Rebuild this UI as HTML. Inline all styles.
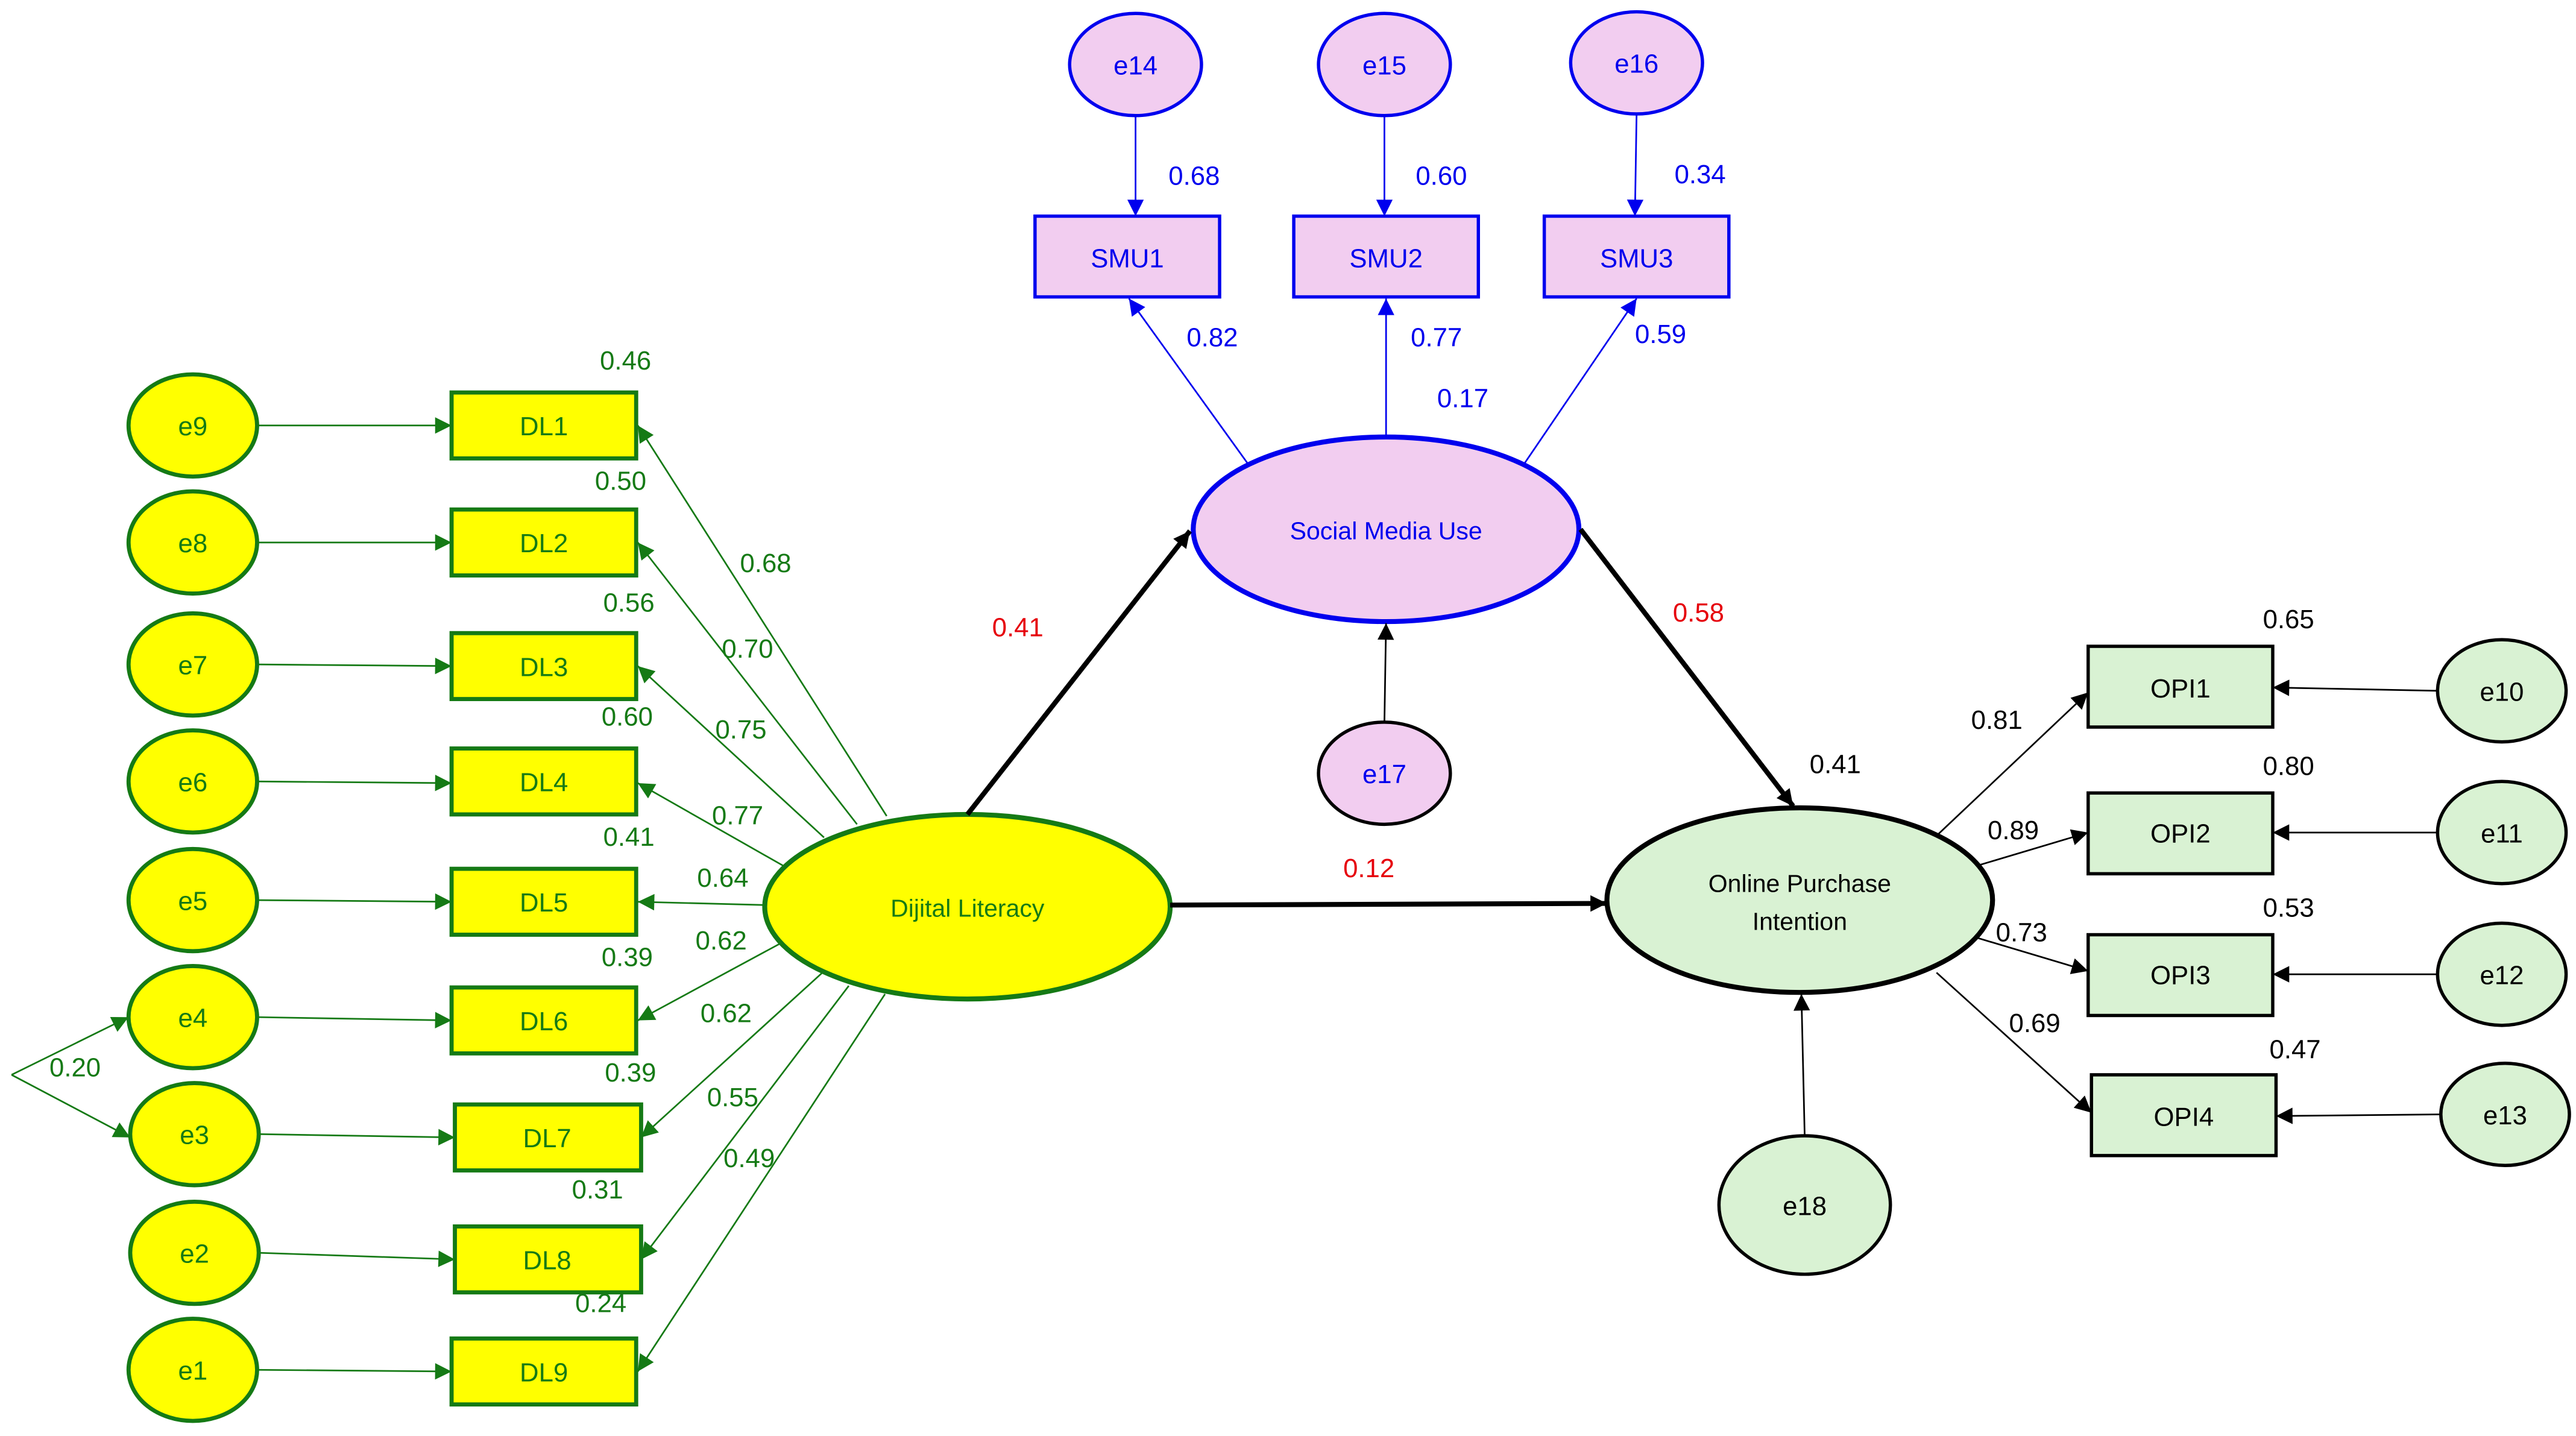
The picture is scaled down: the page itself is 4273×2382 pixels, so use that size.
<!DOCTYPE html>
<html><head><meta charset="utf-8"><style>
html,body{margin:0;padding:0;background:#fff;}
svg{display:block;}
text{font-family:"Liberation Sans",Arial,sans-serif;}
</style></head><body>
<svg width="4273" height="2382" viewBox="0 0 1563 871" xmlns="http://www.w3.org/2000/svg">
<defs>
<marker id="ag" viewBox="0 0 10 10" refX="10" refY="5" markerWidth="14" markerHeight="10" markerUnits="userSpaceOnUse" orient="auto"><path d="M0,0L10,5L0,10z" fill="#157a15"/></marker>
<marker id="ab" viewBox="0 0 10 10" refX="10" refY="5" markerWidth="14" markerHeight="10" markerUnits="userSpaceOnUse" orient="auto"><path d="M0,0L10,5L0,10z" fill="#0000ee"/></marker>
<marker id="ak" viewBox="0 0 10 10" refX="10" refY="5" markerWidth="14" markerHeight="10" markerUnits="userSpaceOnUse" orient="auto"><path d="M0,0L10,5L0,10z" fill="#000"/></marker>
</defs>
<rect width="1563" height="871" fill="#fff"/>

<!-- DL error ellipses and arrows -->
<g stroke="#157a15" stroke-width="1" fill="none">
<line x1="156" y1="258" x2="274" y2="258" marker-end="url(#ag)"/>
<line x1="156" y1="329" x2="274" y2="329" marker-end="url(#ag)"/>
<line x1="156" y1="403" x2="274" y2="404" marker-end="url(#ag)"/>
<line x1="156" y1="474" x2="274" y2="475" marker-end="url(#ag)"/>
<line x1="156" y1="546" x2="274" y2="547" marker-end="url(#ag)"/>
<line x1="156" y1="617" x2="274" y2="619" marker-end="url(#ag)"/>
<line x1="157" y1="688" x2="276" y2="690" marker-end="url(#ag)"/>
<line x1="157" y1="760" x2="276" y2="764" marker-end="url(#ag)"/>
<line x1="156" y1="831" x2="274" y2="832" marker-end="url(#ag)"/>
<polyline points="78,617 7,652 78,688" stroke-width="0"/>
<line x1="7" y1="652" x2="78" y2="617" marker-end="url(#ag)"/>
<line x1="7" y1="652" x2="79" y2="690" marker-end="url(#ag)"/>
<!-- loadings -->
<line x1="538" y1="495" x2="387" y2="258" marker-end="url(#ag)"/>
<line x1="520" y1="500" x2="387" y2="329" marker-end="url(#ag)"/>
<line x1="500" y1="508" x2="387" y2="404" marker-end="url(#ag)"/>
<line x1="475" y1="525" x2="387" y2="475" marker-end="url(#ag)"/>
<line x1="464" y1="549" x2="387" y2="547" marker-end="url(#ag)"/>
<line x1="474" y1="572" x2="387" y2="619" marker-end="url(#ag)"/>
<line x1="499" y1="590" x2="389" y2="690" marker-end="url(#ag)"/>
<line x1="515" y1="598" x2="389" y2="764" marker-end="url(#ag)"/>
<line x1="537" y1="603" x2="387" y2="832" marker-end="url(#ag)"/>
</g>
<g fill="#ffff00" stroke="#157a15" stroke-width="2.5">
<ellipse cx="117" cy="258" rx="39" ry="31"/>
<ellipse cx="117" cy="329" rx="39" ry="31"/>
<ellipse cx="117" cy="403" rx="39" ry="31"/>
<ellipse cx="117" cy="474" rx="39" ry="31"/>
<ellipse cx="117" cy="546" rx="39" ry="31"/>
<ellipse cx="117" cy="617" rx="39" ry="31"/>
<ellipse cx="118" cy="688" rx="39" ry="31"/>
<ellipse cx="118" cy="760" rx="39" ry="31"/>
<ellipse cx="117" cy="831" rx="39" ry="31"/>
<rect x="274" y="238" width="112" height="40"/>
<rect x="274" y="309" width="112" height="40"/>
<rect x="274" y="384" width="112" height="40"/>
<rect x="274" y="454" width="112" height="40"/>
<rect x="274" y="527" width="112" height="40"/>
<rect x="274" y="599" width="112" height="40"/>
<rect x="276" y="670" width="113" height="40"/>
<rect x="276" y="744" width="113" height="40"/>
<rect x="274" y="812" width="112" height="40"/>
<ellipse cx="587" cy="550" rx="123" ry="56" stroke-width="3"/>
</g>
<g fill="#157a15" font-size="16" text-anchor="middle">
<text x="117" y="264">e9</text><text x="117" y="335">e8</text><text x="117" y="409">e7</text>
<text x="117" y="480">e6</text><text x="117" y="552">e5</text><text x="117" y="623">e4</text>
<text x="118" y="694">e3</text><text x="118" y="766">e2</text><text x="117" y="837">e1</text>
<text x="330" y="264">DL1</text><text x="330" y="335">DL2</text><text x="330" y="410">DL3</text>
<text x="330" y="480">DL4</text><text x="330" y="553">DL5</text><text x="330" y="625">DL6</text>
<text x="332" y="696">DL7</text><text x="332" y="770">DL8</text><text x="330" y="838">DL9</text>
<text x="587" y="556" font-size="15">Dijital Literacy</text>
</g>
<g fill="#157a15" font-size="16">
<text x="364" y="224">0.46</text><text x="361" y="297">0.50</text><text x="366" y="371">0.56</text>
<text x="365" y="440">0.60</text><text x="366" y="513">0.41</text><text x="365" y="586">0.39</text>
<text x="367" y="656">0.39</text><text x="347" y="727">0.31</text><text x="349" y="796">0.24</text>
<text x="449" y="347">0.68</text><text x="438" y="399">0.70</text><text x="434" y="448">0.75</text>
<text x="432" y="500">0.77</text><text x="423" y="538">0.64</text><text x="422" y="576">0.62</text>
<text x="425" y="620">0.62</text><text x="429" y="671">0.55</text><text x="439" y="708">0.49</text>
<text x="30" y="653">0.20</text>
</g>

<!-- SMU -->
<g stroke="#0000ee" stroke-width="1" fill="none">
<line x1="689" y1="70" x2="689" y2="131" marker-end="url(#ab)"/>
<line x1="840" y1="70" x2="840" y2="131" marker-end="url(#ab)"/>
<line x1="993" y1="69" x2="992" y2="131" marker-end="url(#ab)"/>
<line x1="757" y1="281" x2="685" y2="181" marker-end="url(#ab)"/>
<line x1="841" y1="265" x2="841" y2="181" marker-end="url(#ab)"/>
<line x1="925" y1="281" x2="993" y2="181" marker-end="url(#ab)"/>
</g>
<g fill="#f2cdf0" stroke="#0000ee" stroke-width="2">
<ellipse cx="689" cy="39" rx="40" ry="31"/>
<ellipse cx="840" cy="39" rx="40" ry="31"/>
<ellipse cx="993" cy="38" rx="40" ry="31"/>
<rect x="628" y="131" width="112" height="49"/>
<rect x="785" y="131" width="112" height="49"/>
<rect x="937" y="131" width="112" height="49"/>
<ellipse cx="841" cy="321" rx="117" ry="56" stroke-width="3"/>
</g>
<g fill="#0000ee" font-size="16" text-anchor="middle">
<text x="689" y="45">e14</text><text x="840" y="45">e15</text><text x="993" y="44">e16</text>
<text x="684" y="162">SMU1</text><text x="841" y="162">SMU2</text><text x="993" y="162">SMU3</text>
<text x="841" y="327" font-size="15">Social Media Use</text>
</g>
<g fill="#0000ee" font-size="16">
<text x="709" y="112">0.68</text><text x="859" y="112">0.60</text><text x="1016" y="111">0.34</text>
<text x="720" y="210">0.82</text><text x="856" y="210">0.77</text><text x="992" y="208">0.59</text>
<text x="872" y="247">0.17</text>
</g>

<!-- structural paths -->
<g stroke="#000" stroke-width="3" fill="none">
<line x1="587" y1="494" x2="722" y2="322" marker-end="url(#ak)"/>
<line x1="959" y1="321" x2="1088" y2="489" marker-end="url(#ak)"/>
<line x1="710" y1="549" x2="975" y2="548" marker-end="url(#ak)"/>
</g>
<g stroke="#000" stroke-width="1" fill="none">
<line x1="840" y1="438" x2="841" y2="378" marker-end="url(#ak)"/>
<line x1="1095" y1="689" x2="1093" y2="603" marker-end="url(#ak)"/>
<line x1="1176" y1="506" x2="1267" y2="420" marker-end="url(#ak)"/>
<line x1="1200" y1="525" x2="1267" y2="505" marker-end="url(#ak)"/>
<line x1="1200" y1="569" x2="1267" y2="589" marker-end="url(#ak)"/>
<line x1="1175" y1="590" x2="1269" y2="675" marker-end="url(#ak)"/>
<line x1="1479" y1="419" x2="1379" y2="417" marker-end="url(#ak)"/>
<line x1="1479" y1="505" x2="1379" y2="505" marker-end="url(#ak)"/>
<line x1="1479" y1="591" x2="1379" y2="591" marker-end="url(#ak)"/>
<line x1="1481" y1="676" x2="1381" y2="677" marker-end="url(#ak)"/>
</g>
<g fill="#e6000a" font-size="16">
<text x="602" y="386">0.41</text><text x="1015" y="377">0.58</text><text x="815" y="532">0.12</text>
</g>
<ellipse cx="840" cy="469" rx="40" ry="31" fill="#f2cdf0" stroke="#000" stroke-width="2"/>
<g fill="#d9f2d3" stroke="#000" stroke-width="2">
<ellipse cx="1095" cy="731" rx="52" ry="42"/>
<ellipse cx="1518" cy="419" rx="39" ry="31"/>
<ellipse cx="1518" cy="505" rx="39" ry="31"/>
<ellipse cx="1518" cy="591" rx="39" ry="31"/>
<ellipse cx="1520" cy="676" rx="39" ry="31"/>
<rect x="1267" y="392" width="112" height="49"/>
<rect x="1267" y="481" width="112" height="49"/>
<rect x="1267" y="567" width="112" height="49"/>
<rect x="1269" y="652" width="112" height="49"/>
<ellipse cx="1092" cy="546" rx="117" ry="56" stroke-width="3"/>
</g>
<g fill="#000" font-size="16" text-anchor="middle">
<text x="840" y="475" fill="#0000ee">e17</text>
<text x="1095" y="737">e18</text>
<text x="1518" y="425">e10</text><text x="1518" y="511">e11</text><text x="1518" y="597">e12</text><text x="1520" y="682">e13</text>
<text x="1323" y="423">OPI1</text><text x="1323" y="511">OPI2</text><text x="1323" y="597">OPI3</text><text x="1325" y="683">OPI4</text>
<text x="1092" y="541" font-size="15">Online Purchase</text>
<text x="1092" y="564" font-size="15">Intention</text>
</g>
<g fill="#000" font-size="16">
<text x="1373" y="381">0.65</text><text x="1373" y="470">0.80</text><text x="1373" y="556">0.53</text><text x="1377" y="642">0.47</text>
<text x="1098" y="469">0.41</text>
<text x="1196" y="442">0.81</text><text x="1206" y="509">0.89</text><text x="1211" y="571">0.73</text><text x="1219" y="626">0.69</text>
</g>
</svg>
</body></html>
